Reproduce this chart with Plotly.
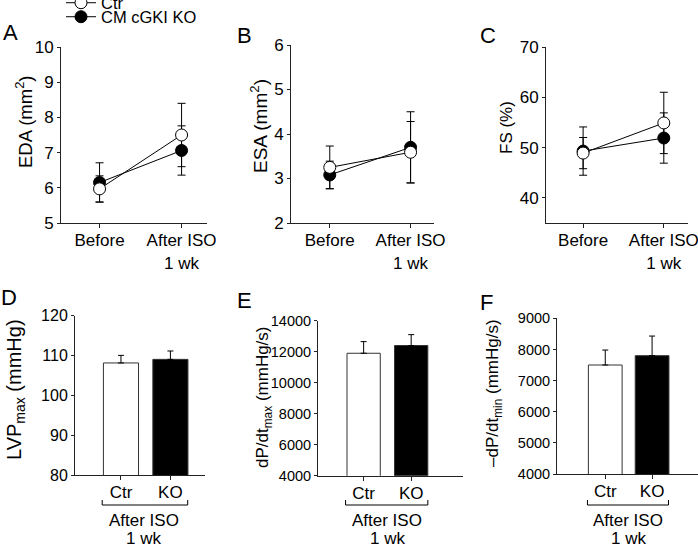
import plotly.graph_objects as go

W, H = 698, 547
FONT = "Liberation Sans, Arial, Helvetica, sans-serif"
AX = "#222222"

# ---------------- data ----------------
time_cats = ["Before", "After ISO<br>1 wk"]
group_cats = ["Ctr", "KO"]
series_names = ["Ctr", "CM cGKI KO"]

eda_ctr = [5.97, 7.50]
eda_ctr_err = [0.37, 0.90]
eda_ko = [6.15, 7.06]
eda_ko_err = [0.56, 0.70]

esa_ctr = [3.25, 3.59]
esa_ctr_err = [0.48, 0.69]
esa_ko = [3.08, 3.70]
esa_ko_err = [0.31, 0.80]

fs_ctr = [48.9, 54.9]
fs_ctr_err = [3.1, 6.1]
fs_ko = [49.3, 51.9]
fs_ko_err = [4.8, 5.0]

lvp = [108.1, 109.0]
lvp_err = [1.9, 2.1]
dpmax = [11900, 12400]
dpmax_err = [750, 700]
dpmin = [7500, 7800]
dpmin_err = [480, 630]

bar_colors = ["white", "black"]


def fx(p):
    return p / W


def fy(p):
    return 1 - p / H


fig = go.Figure()
annotations = []
shapes = []

top_panels = [
    dict(letter="A", ctr=eda_ctr, ctr_e=eda_ctr_err, ko=eda_ko, ko_e=eda_ko_err,
         xpx=(61, 207), ypx=(47, 223), yr=(5, 10), tv=[5, 6, 7, 8, 9, 10],
         xr=(-0.47, 1.31), title="EDA (mm<sup>2</sup>)", tfs=18.5, tpos=(24, 122), lpos=(10, 32)),
    dict(letter="B", ctr=esa_ctr, ctr_e=esa_ctr_err, ko=esa_ko, ko_e=esa_ko_err,
         xpx=(291, 434), ypx=(45, 223), yr=(2, 6), tv=[2, 3, 4, 5, 6],
         xr=(-0.48, 1.29), title="ESA (mm<sup>2</sup>)", tfs=19, tpos=(259, 126), lpos=(244, 35)),
    dict(letter="C", ctr=fs_ctr, ctr_e=fs_ctr_err, ko=fs_ko, ko_e=fs_ko_err,
         xpx=(546, 688), ypx=(47, 223), yr=(35, 70), tv=[40, 50, 60, 70],
         xr=(-0.46, 1.30), title="FS (%)", tfs=17, tpos=(506, 128), lpos=(488, 35)),
]

bottom_panels = [
    dict(letter="D", vals=lvp, errs=lvp_err, xpx=(75, 205), ypx=(315.5, 475),
         yr=(80, 120), tv=[80, 90, 100, 110, 120], xr=(-0.93, 1.70), bw=0.71,
         title="LVP<sub>max</sub> (mmHg)", tfs=20, tpos=(15, 390), lpos=(9, 298), tsize=16, cx=143.5),
    dict(letter="E", vals=dpmax, errs=dpmax_err, xpx=(318, 463), ypx=(320.7, 475.7),
         yr=(4000, 14000), tv=[4000, 6000, 8000, 10000, 12000, 14000], xr=(-0.96, 2.09), bw=0.70,
         title="dP/dt<sub>max</sub> (mmHg/s)", tfs=17, tpos=(264, 397), lpos=(244, 300), tsize=14.5, cx=387),
    dict(letter="F", vals=dpmin, errs=dpmin_err, xpx=(557, 698), ypx=(318.3, 474),
         yr=(4000, 9000), tv=[4000, 5000, 6000, 7000, 8000, 9000], xr=(-1.03, 1.98), bw=0.72,
         title="\u2013dP/dt<sub>min</sub> (mmHg/s)", tfs=17, tpos=(494, 393), lpos=(486, 302), tsize=14.5, cx=628),
]

layout_axes = {}


def axis_common():
    return dict(showgrid=False, zeroline=False, showline=True, linecolor=AX, linewidth=1,
                ticks="outside", tickcolor=AX, ticklen=4, tickwidth=1,
                tickfont=dict(family=FONT, size=16, color="black"))


def add_labels(p):
    annotations.append(dict(text=p["title"], x=fx(p["tpos"][0]), y=fy(p["tpos"][1]),
                            xref="paper", yref="paper", textangle=-90, showarrow=False,
                            xanchor="center", yanchor="middle",
                            font=dict(family=FONT, size=p["tfs"], color="black")))
    annotations.append(dict(text=p["letter"], x=fx(p["lpos"][0]), y=fy(p["lpos"][1]),
                            xref="paper", yref="paper", showarrow=False,
                            xanchor="center", yanchor="middle",
                            font=dict(family=FONT, size=22, color="black")))


idx = 0
for p in top_panels:
    idx += 1
    xa = "x" if idx == 1 else f"x{idx}"
    ya = "y" if idx == 1 else f"y{idx}"
    xk = "xaxis" if idx == 1 else f"xaxis{idx}"
    yk = "yaxis" if idx == 1 else f"yaxis{idx}"
    for name, vals, errs, fill, leg in [
        (series_names[1], p["ko"], p["ko_e"], "black", "legend2"),
        (series_names[0], p["ctr"], p["ctr_e"], "white", "legend"),
    ]:
        fig.add_trace(go.Scatter(
            x=time_cats, y=vals, mode="lines+markers", name=name,
            xaxis=xa, yaxis=ya, legend=leg, showlegend=(idx == 1),
            line=dict(color="black", width=1),
            marker=dict(size=12, color=fill, line=dict(color="black", width=1)),
            error_y=dict(type="data", array=errs, color="black", thickness=1, width=4),
            cliponaxis=False,
        ))
    xd = axis_common()
    xd.update(domain=[fx(p["xpx"][0]), fx(p["xpx"][1])], anchor=ya, range=list(p["xr"]),
              type="category", ticklabelstandoff=-2,
              tickfont=dict(family=FONT, size=17, color="black"))
    yd = axis_common()
    yd.update(domain=[fy(p["ypx"][1]), fy(p["ypx"][0])], anchor=xa, range=list(p["yr"]),
              tickvals=p["tv"], ticklen=3, tickfont=dict(family=FONT, size=17, color="black"))
    layout_axes[xk] = xd
    layout_axes[yk] = yd
    add_labels(p)

for p in bottom_panels:
    idx += 1
    xa = f"x{idx}"
    ya = f"y{idx}"
    xk = f"xaxis{idx}"
    yk = f"yaxis{idx}"
    fig.add_trace(go.Bar(
        x=group_cats, y=p["vals"], width=p["bw"], xaxis=xa, yaxis=ya, showlegend=False,
        marker=dict(color=bar_colors, line=dict(color="#333333", width=1)),
        error_y=dict(type="data", symmetric=False, array=p["errs"], arrayminus=[0, 0],
                     color="black", thickness=1, width=3),
    ))
    xd = axis_common()
    xd.update(domain=[fx(p["xpx"][0]), fx(p["xpx"][1])], anchor=ya, range=list(p["xr"]),
              type="category", ticklabelstandoff=-2,
              tickfont=dict(family=FONT, size=17, color="black"))
    yd = axis_common()
    yd.update(domain=[fy(p["ypx"][1]), fy(p["ypx"][0])], anchor=xa, range=list(p["yr"]),
              tickvals=p["tv"], tickformat="d", ticklen=3,
              tickfont=dict(family=FONT, size=p["tsize"], color="black"))
    layout_axes[xk] = xd
    layout_axes[yk] = yd
    add_labels(p)
    # bracket under the two bars
    yb, yt = fy(505), fy(500)
    x0, x1 = -0.38, 1.35
    shapes.append(dict(type="path", xref=xa, yref="paper",
                       path=f"M {x0},{yt} L {x0},{yb} L {x1},{yb} L {x1},{yt}",
                       line=dict(color="black", width=1)))
    annotations.append(dict(text="After ISO", x=fx(p["cx"]), y=fy(520), xref="paper", yref="paper",
                            showarrow=False, xanchor="center", yanchor="middle",
                            font=dict(family=FONT, size=17, color="black")))
    annotations.append(dict(text="1 wk", x=fx(p["cx"]), y=fy(538), xref="paper", yref="paper",
                            showarrow=False, xanchor="center", yanchor="middle",
                            font=dict(family=FONT, size=17, color="black")))

legend_common = dict(xanchor="left", yanchor="middle", bgcolor="rgba(0,0,0,0)",
                     borderwidth=0, font=dict(family=FONT, size=16.5, color="black"))

fig.update_layout(
    width=W, height=H,
    margin=dict(l=0, r=0, t=0, b=0, autoexpand=False),
    paper_bgcolor="white", plot_bgcolor="white",
    annotations=annotations, shapes=shapes,
    legend=dict(x=fx(61), y=fy(3), **legend_common),
    legend2=dict(x=fx(61), y=fy(17), **legend_common),
    **layout_axes,
)

fig.write_html("out.html", config={"displayModeBar": False},
               post_script="document.body.style.margin='0px';")
